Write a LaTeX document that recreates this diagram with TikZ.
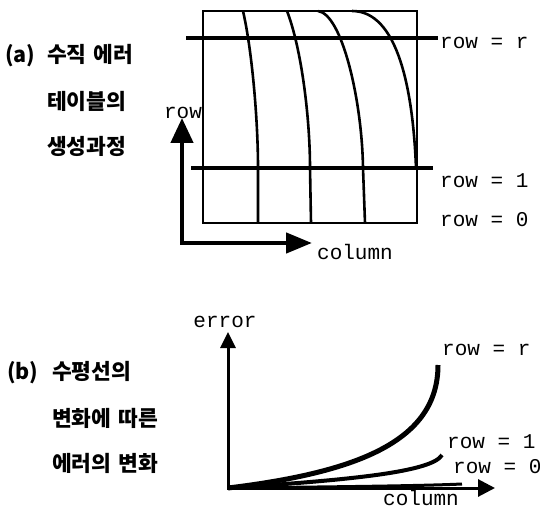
\documentclass[tikz,border=0pt]{standalone}
\usepackage{fontspec}
\setmonofont{Liberation Mono}
\newfontfamily\kr{Noto Sans CJK KR}
\usetikzlibrary{arrows.meta}
\newcommand\kgap{\hspace{7pt}}
\begin{document}
\begin{tikzpicture}[x=1pt,y=-1pt,
  lbl/.style={font=\fontsize{21}{21}\selectfont\ttfamily, inner sep=0pt},
  kor/.style={font=\fontsize{21.5}{21.5}\selectfont\kr\bfseries, inner sep=0pt, anchor=west},
  frame/.style={line width=2.6pt},
  curve/.style={line width=2.6pt},
  level/.style={line width=4.5pt},
  axisA/.style={line width=4.5pt, {Triangle[length=25pt,width=22pt]}-{Triangle[length=26pt,width=20pt]}},
  axisB/.style={line width=3pt, {Triangle[length=16pt,width=15pt]}-{Triangle[length=17pt,width=17pt]}},
]
\useasboundingbox (0,0) rectangle (540,510);
% ---------- (a) ----------
\node[kor] (ta1) at (5,56) {\makebox[42pt][l]{(a)}수직\kgap 에러};
\node[kor] (ta2) at (47,101) {테이블의};
\node[kor] (ta3) at (47,146) {생성과정};

\coordinate (r1) at (203,11);
\coordinate (r2) at (417,223);
\draw[frame] (r1) rectangle (r2);

% curves
\coordinate (c1t) at (243,11); \coordinate (c1m) at (258,168); \coordinate (c1b) at (258,223);
\coordinate (c2t) at (287,11); \coordinate (c2m) at (310,168); \coordinate (c2b) at (311,223);
\coordinate (c3t) at (318,11); \coordinate (c3m) at (363,168); \coordinate (c3b) at (365,223);
\coordinate (c4t) at (352,11); \coordinate (c4m) at (416,168);
\draw[curve] (c1t) .. controls (252,50) and (258,120) .. (c1m) -- (c1b);
\draw[curve] (c2t) .. controls (302,50) and (310,120) .. (c2m) -- (c2b);
\draw[curve] (c3t) .. controls (342,14) and (362,100) .. (c3m) -- (c3b);
\draw[curve] (c4t) .. controls (398,11) and (413,90) .. (c4m);

% level lines
\coordinate (hr1) at (186,38); \coordinate (hr2) at (438,38);
\coordinate (h11) at (191,168); \coordinate (h12) at (433,168);
\draw[level] (hr1) -- (hr2);
\draw[level] (h11) -- (h12);

\node[lbl, anchor=west] (lra) at (440,43) {row = r};
\node[lbl, anchor=west] (l1a) at (440,181) {row = 1};
\node[lbl, anchor=west] (l0a) at (440,220) {row = 0};

% axes
\coordinate (ayA) at (182,118);
\coordinate (axA) at (312,243);
\draw[axisA] (ayA) |- (axA);
\node[lbl] (rowA) at (183,113) {row};
\node[lbl] (colA) at (355,252) {column};

% ---------- (b) ----------
\node[kor] (tb1) at (7,373) {\makebox[45pt][l]{(b)}수평선의};
\node[kor] (tb2) at (52,418) {변화에\kgap 따른};
\node[kor] (tb3) at (52,463) {에러의\kgap 변화};

\coordinate (ayB) at (228,332);
\coordinate (oB) at (228,488);
\coordinate (axB) at (495,488);
\draw[axisB] (ayB) |- (axB);

\coordinate (erB) at (438,365);
\coordinate (e1B) at (442,455);
\coordinate (e0B) at (462,484);
\draw[line width=5pt] (oB) .. controls (360,472) and (438,440) .. (erB);
\draw[line width=4pt] (oB) .. controls (350,480) and (432,472) .. (e1B);
\draw[line width=3pt] (oB) .. controls (320,487) and (420,486) .. (e0B);

\node[lbl] (errB) at (225,322) {error};
\node[lbl, anchor=west] (lrb) at (442,350) {row = r};
\node[lbl, anchor=west] (l1b) at (447,442) {row = 1};
\node[lbl, anchor=west] (l0b) at (453,467) {row = 0};
\node[lbl] (colB) at (421,498) {column};
\end{tikzpicture}
\end{document}
